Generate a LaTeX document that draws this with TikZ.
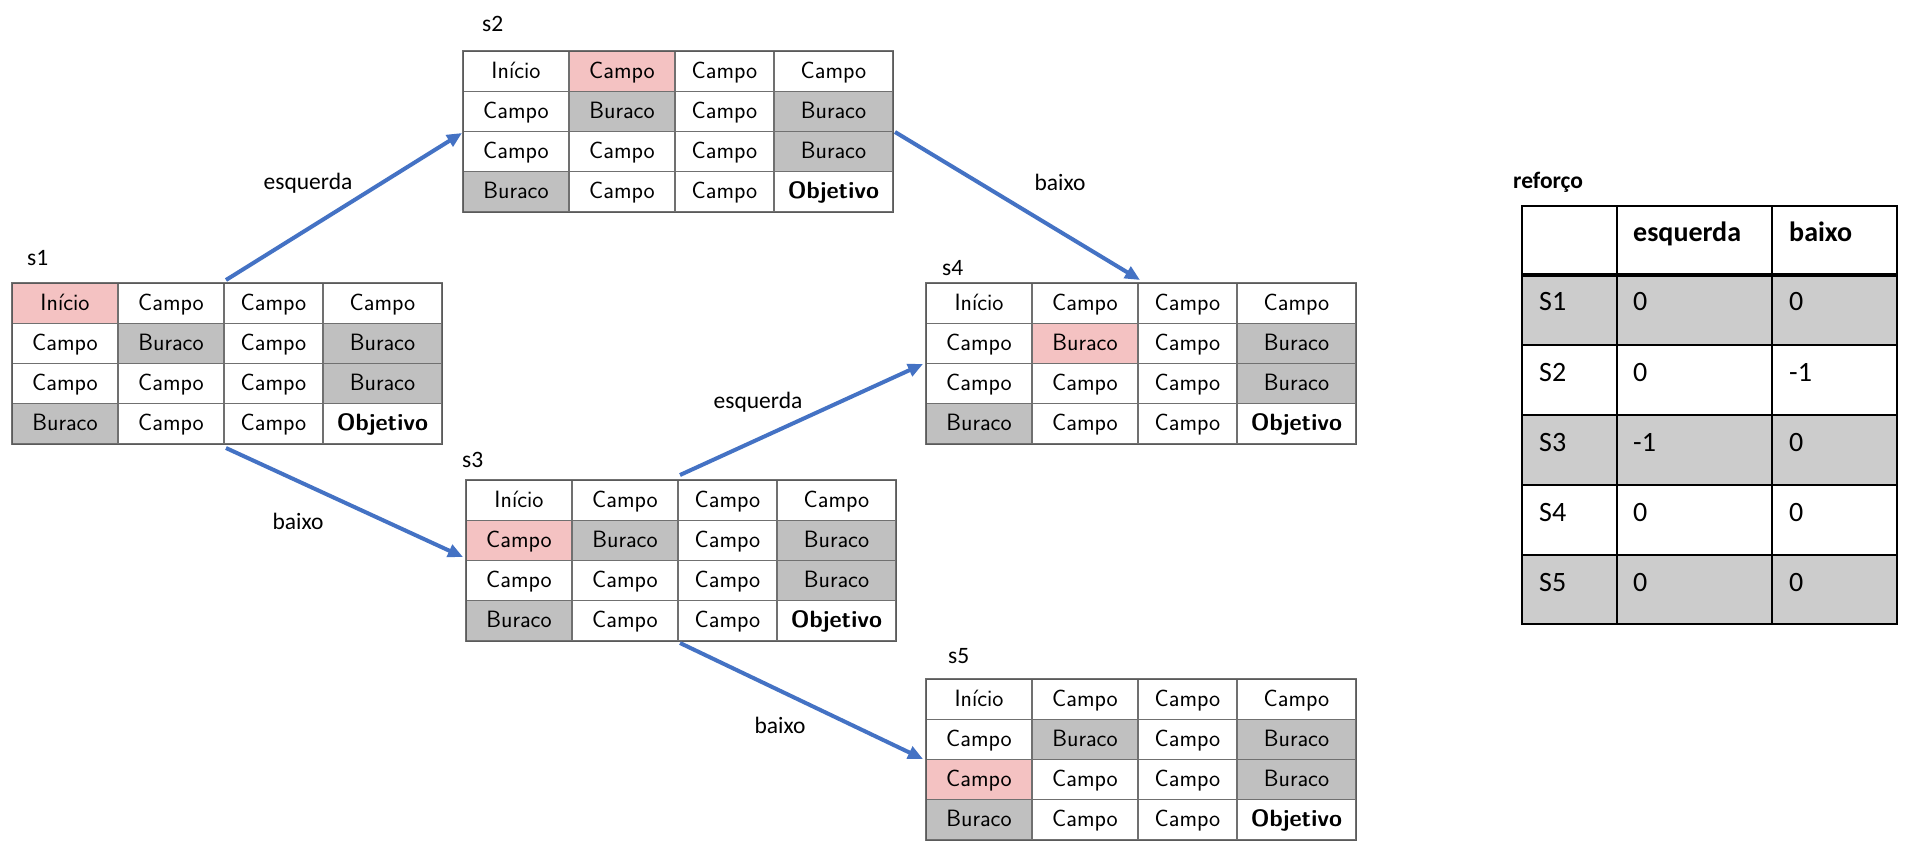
\documentclass[tikz,border=0pt]{standalone}
\usepackage{fontspec}
\newfontfamily\carl{Carlito}
\usetikzlibrary{arrows.meta}
\definecolor{arrowblue}{HTML}{4472C4}
\definecolor{holegray}{HTML}{C0C0C0}
\definecolor{pinkc}{HTML}{F4C2C2}
\definecolor{gridline}{HTML}{707070}
\definecolor{tabgray}{HTML}{CCCCCC}
\tikzset{
  cell/.style={draw=gridline, line width=1.1pt, minimum height=40.25pt, inner sep=0pt,
    text height=18pt, text depth=4pt,
    font=\sffamily\fontsize{23.6}{28}\selectfont, text=black},
  gridframe/.style={draw=gridline!80!black, line width=1.4pt, minimum width=430pt,
    minimum height=161pt, inner sep=0pt, anchor=north west},
  lab/.style={font=\carl\fontsize{23.5}{28}\selectfont, inner sep=0pt},
  flow/.style={-{Triangle[length=15pt,width=13pt]}, line width=4pt, draw=arrowblue},
  tcell/.style={draw=black, line width=1.4pt, inner sep=0pt},
  ttext/.style={font=\carl\fontsize{28}{34}\selectfont, inner sep=0pt, anchor=base west},
}
\newcommand\stategrid[4]{%
  \foreach \ri/\ci/\tx/\fc in {0/0/Início/white,0/1/Campo/white,0/2/Campo/white,0/3/Campo/white,
    1/0/Campo/white,1/1/Buraco/holegray,1/2/Campo/white,1/3/Buraco/holegray,
    2/0/Campo/white,2/1/Campo/white,2/2/Campo/white,2/3/Buraco/holegray,
    3/0/Buraco/holegray,3/1/Campo/white,3/2/Campo/white,3/3/{\textbf{Objetivo}}/white}{
    \pgfmathsetmacro\xa{{0,106,212,311}[\ci]}
    \pgfmathsetmacro\xb{{106,212,311,430}[\ci]}
    \pgfmathsetmacro\cw{\xb-\xa}
    \pgfmathsetmacro\xm{#2+(\xa+\xb)/2}
    \pgfmathsetmacro\ym{#3+\ri*40.25+20.125}
    \ifnum\numexpr\ri*4+\ci\relax=#4 \def\thefill{pinkc}\else\let\thefill\fc\fi
    \node[cell, minimum width=\cw pt, fill=\thefill] (#1-\ri-\ci) at (\xm,\ym) {\tx};
  }
  \node[gridframe] (#1) at (#2,#3) {};
}
\begin{document}
\begin{tikzpicture}[x=1pt,y=-1pt]
\useasboundingbox (0,0) rectangle (1908,856);
\fill[white] (0,0) rectangle (1908,856);

% grids
\stategrid{s1}{12}{283}{0}
\stategrid{s2}{463}{51}{1}
\stategrid{s3}{466}{480}{4}
\stategrid{s4}{926}{283}{5}
\stategrid{s5}{926}{679}{8}

% grid labels
\node[lab, anchor=base west] (ls1) at (27,265) {s1};
\node[lab, anchor=base west] (ls2) at (482,32) {s2};
\node[lab, anchor=base west] (ls3) at (462,467) {s3};
\node[lab, anchor=base west] (ls4) at (942,275) {s4};
\node[lab, anchor=base west] (ls5) at (948,663) {s5};

% arrows
\coordinate (a1s) at (226,280); \coordinate (a1e) at (462,133);
\coordinate (a2s) at (226,448); \coordinate (a2e) at (463,557);
\coordinate (a3s) at (895,132); \coordinate (a3e) at (1140,280);
\coordinate (a4s) at (680,475); \coordinate (a4e) at (923,364);
\coordinate (a5s) at (680,643); \coordinate (a5e) at (923,759);
\draw[flow] (a1s) -- (a1e);
\draw[flow] (a2s) -- (a2e);
\draw[flow] (a3s) -- (a3e);
\draw[flow] (a4s) -- (a4e);
\draw[flow] (a5s) -- (a5e);

% arrow labels
\node[lab, anchor=base] (e1) at (308,189) {esquerda};
\node[lab, anchor=base] (b2) at (298,529) {baixo};
\node[lab, anchor=base] (b3) at (1060,190) {baixo};
\node[lab, anchor=base] (e4) at (758,408) {esquerda};
\node[lab, anchor=base] (b5) at (780,733) {baixo};

% reward table
\node[lab, anchor=base west, font=\carl\bfseries\fontsize{23.5}{28}\selectfont] (rt) at (1513,188) {reforço};
\foreach \ri/\ya/\yb/\fc in {0/206/274/white,1/274/345/tabgray,2/345/415/white,3/415/485/tabgray,4/485/555/white,5/555/624/tabgray}{
  \foreach \ci/\xa/\xb in {0/1522/1617,1/1617/1772,2/1772/1897}{
    \pgfmathsetmacro\cw{\xb-\xa}
    \pgfmathsetmacro\chh{\yb-\ya}
    \node[tcell, fill=\fc, minimum width=\cw pt, minimum height=\chh pt] (t-\ri-\ci) at ({(\xa+\xb)/2},{(\ya+\yb)/2}) {};
  }
}
\draw[line width=4pt, draw=black] (t-0-0.south west) -- (t-0-2.south east);
\node[ttext, font=\carl\bfseries\fontsize{28}{34}\selectfont] (h1) at (1633,241) {esquerda};
\node[ttext, font=\carl\bfseries\fontsize{28}{34}\selectfont] (h2) at (1789,241) {baixo};
\foreach \ri/\yy/\la/\va/\vb in {1/310/S1/0/0,2/381/S2/0/-1,3/451/S3/-1/0,4/521/S4/0/0,5/591/S5/0/0}{
  \node[ttext] (r\ri-0) at (1539,\yy) {\la};
  \node[ttext] (r\ri-1) at (1633,\yy) {\va};
  \node[ttext] (r\ri-2) at (1789,\yy) {\vb};
}
\end{tikzpicture}
\end{document}
